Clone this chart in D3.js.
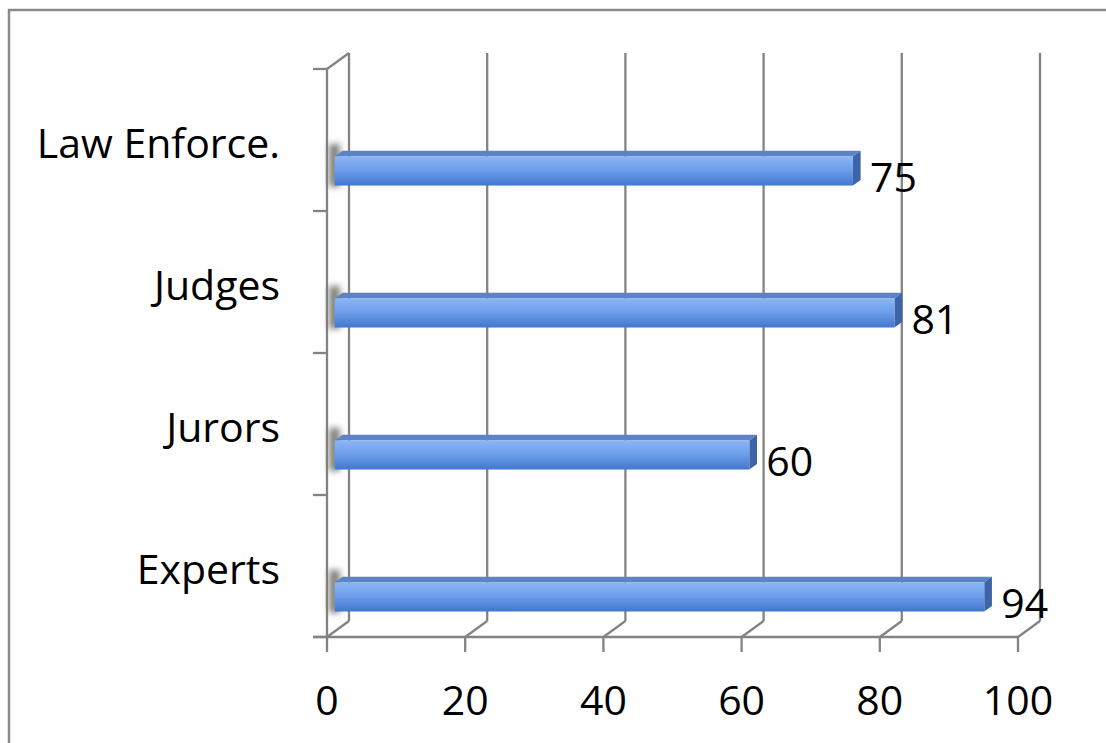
<!DOCTYPE html>
<html>
<head>
<meta charset="utf-8">
<script src="https://cdn.jsdelivr.net/npm/d3@7"></script>
<style>
  body { margin: 0; background: #fff; }
  text { font-family: "Open Sans", sans-serif; fill: #000; }
</style>
</head>
<body>
<svg width="1106" height="743"></svg>
<script>
// chart data
var categories = ["Law Enforce.", "Judges", "Jurors", "Experts"];
var values = [75, 81, 60, 94];
var xTicks = [0, 20, 40, 60, 80, 100];

var svg = d3.select("svg");

// outer frame (runs off the right and bottom of the picture)
svg.append("rect")
    .attr("x", 9).attr("y", 10)
    .attr("width", 1120).attr("height", 760)
    .attr("fill", "none").attr("stroke", "#8a8a8a").attr("stroke-width", 2.5);

var x = d3.scaleLinear().domain([0, 100]).range([327, 1018]);
var y = d3.scaleBand().domain(categories).range([69, 637]).padding(0);

// depth of the 3d box
var DX = 22, DY = -16;
var gridColor = "#838383";

var defs = svg.append("defs");
var grad = defs.append("linearGradient")
    .attr("id", "barGrad").attr("x1", 0).attr("y1", 0).attr("x2", 0).attr("y2", 1);
grad.append("stop").attr("offset", "0%").attr("stop-color", "#8bb6f6");
grad.append("stop").attr("offset", "45%").attr("stop-color", "#6f9fec");
grad.append("stop").attr("offset", "100%").attr("stop-color", "#4277cf");

defs.append("filter").attr("id", "blur")
    .attr("x", "-100%").attr("y", "-50%").attr("width", "300%").attr("height", "200%")
  .append("feGaussianBlur").attr("stdDeviation", 3);

var grid = svg.append("g")
    .attr("stroke", gridColor).attr("stroke-width", 2.3).attr("fill", "none");

// back wall gridlines
grid.selectAll(".back").data(xTicks).enter().append("line")
    .attr("x1", function(d) { return x(d) + DX; })
    .attr("x2", function(d) { return x(d) + DX; })
    .attr("y1", y.range()[0] + DY)
    .attr("y2", y.range()[1] + DY);

// floor lines
grid.selectAll(".floor").data(xTicks).enter().append("line")
    .attr("x1", function(d) { return x(d); })
    .attr("x2", function(d) { return x(d) + DX; })
    .attr("y1", y.range()[1])
    .attr("y2", y.range()[1] + DY);

// left wall top edge
grid.append("line")
    .attr("x1", x(0)).attr("y1", y.range()[0])
    .attr("x2", x(0) + DX).attr("y2", y.range()[0] + DY);

// front vertical axis
grid.append("line")
    .attr("x1", x(0)).attr("x2", x(0))
    .attr("y1", y.range()[0]).attr("y2", y.range()[1]);

// category ticks on the axis
var catTicks = categories.map(function(c) { return y(c); }).concat([y.range()[1]]);
grid.selectAll(".ctick").data(catTicks).enter().append("line")
    .attr("x1", x(0) - 14).attr("x2", x(0))
    .attr("y1", function(d) { return d; })
    .attr("y2", function(d) { return d; });

// horizontal axis
grid.append("line")
    .attr("x1", x(0) - 14).attr("x2", x(100))
    .attr("y1", y.range()[1]).attr("y2", y.range()[1]);
grid.selectAll(".xtick").data(xTicks).enter().append("line")
    .attr("x1", function(d) { return x(d); })
    .attr("x2", function(d) { return x(d); })
    .attr("y1", y.range()[1]).attr("y2", y.range()[1] + 15);

// bars: front face at depth 0.35, back at 0.7
var d0 = 0.35, d1 = 0.7;
var bars = svg.selectAll(".bar").data(categories).enter().append("g");

function barTop(c) { return y(c) + y.bandwidth() * 0.655; }
function barBot(c) { return y(c) + y.bandwidth() * 0.86; }

// shadow at the wall
bars.append("rect")
    .attr("x", x(0) + 2)
    .attr("y", function(c) { return barTop(c) + DY * d1 - 7; })
    .attr("width", 11)
    .attr("height", function(c) { return barBot(c) - barTop(c) + 14; })
    .attr("fill", "#6e6e66").attr("opacity", 0.85)
    .attr("filter", "url(#blur)");

// top face
bars.append("path")
    .attr("fill", "#5b83c6")
    .attr("d", function(c, i) {
      var xa = x(0) + DX * d0, xb = x(values[i]) + DX * d0, t = barTop(c) + DY * d0;
      var ox = DX * (d1 - d0), oy = DY * (d1 - d0);
      return "M" + xa + "," + t + "L" + (xa + ox) + "," + (t + oy) +
             "L" + (xb + ox) + "," + (t + oy) + "L" + xb + "," + t + "Z";
    });

// end cap
bars.append("path")
    .attr("fill", "#3d64a8")
    .attr("d", function(c, i) {
      var xb = x(values[i]) + DX * d0, t = barTop(c) + DY * d0, b = barBot(c) + DY * d0;
      var ox = DX * (d1 - d0), oy = DY * (d1 - d0);
      return "M" + xb + "," + t + "L" + (xb + ox) + "," + (t + oy) +
             "L" + (xb + ox) + "," + (b + oy) + "L" + xb + "," + b + "Z";
    });

// front face
bars.append("rect")
    .attr("x", x(0) + DX * d0)
    .attr("y", function(c) { return barTop(c) + DY * d0; })
    .attr("width", function(c, i) { return x(values[i]) - x(0); })
    .attr("height", function(c) { return barBot(c) - barTop(c); })
    .attr("fill", "url(#barGrad)");

// value labels
bars.append("text")
    .attr("x", function(c, i) { return x(values[i]) + DX * d0 + 17; })
    .attr("y", function(c) { return (barTop(c) + barBot(c)) / 2 + DY * d0 + 21; })
    .attr("font-size", 41)
    .text(function(c, i) { return values[i]; });

// category labels
svg.selectAll(".cat").data(categories).enter().append("text")
    .attr("x", 280)
    .attr("y", function(c) { return y(c) + y.bandwidth() / 2 + 18; })
    .attr("text-anchor", "end")
    .attr("font-size", 41)
    .text(function(c) { return c; });

// x tick labels
svg.selectAll(".xlab").data(xTicks).enter().append("text")
    .attr("x", function(d) { return x(d); })
    .attr("y", 715)
    .attr("text-anchor", "middle")
    .attr("font-size", 41)
    .text(function(d) { return d; });
</script>
</body>
</html>
